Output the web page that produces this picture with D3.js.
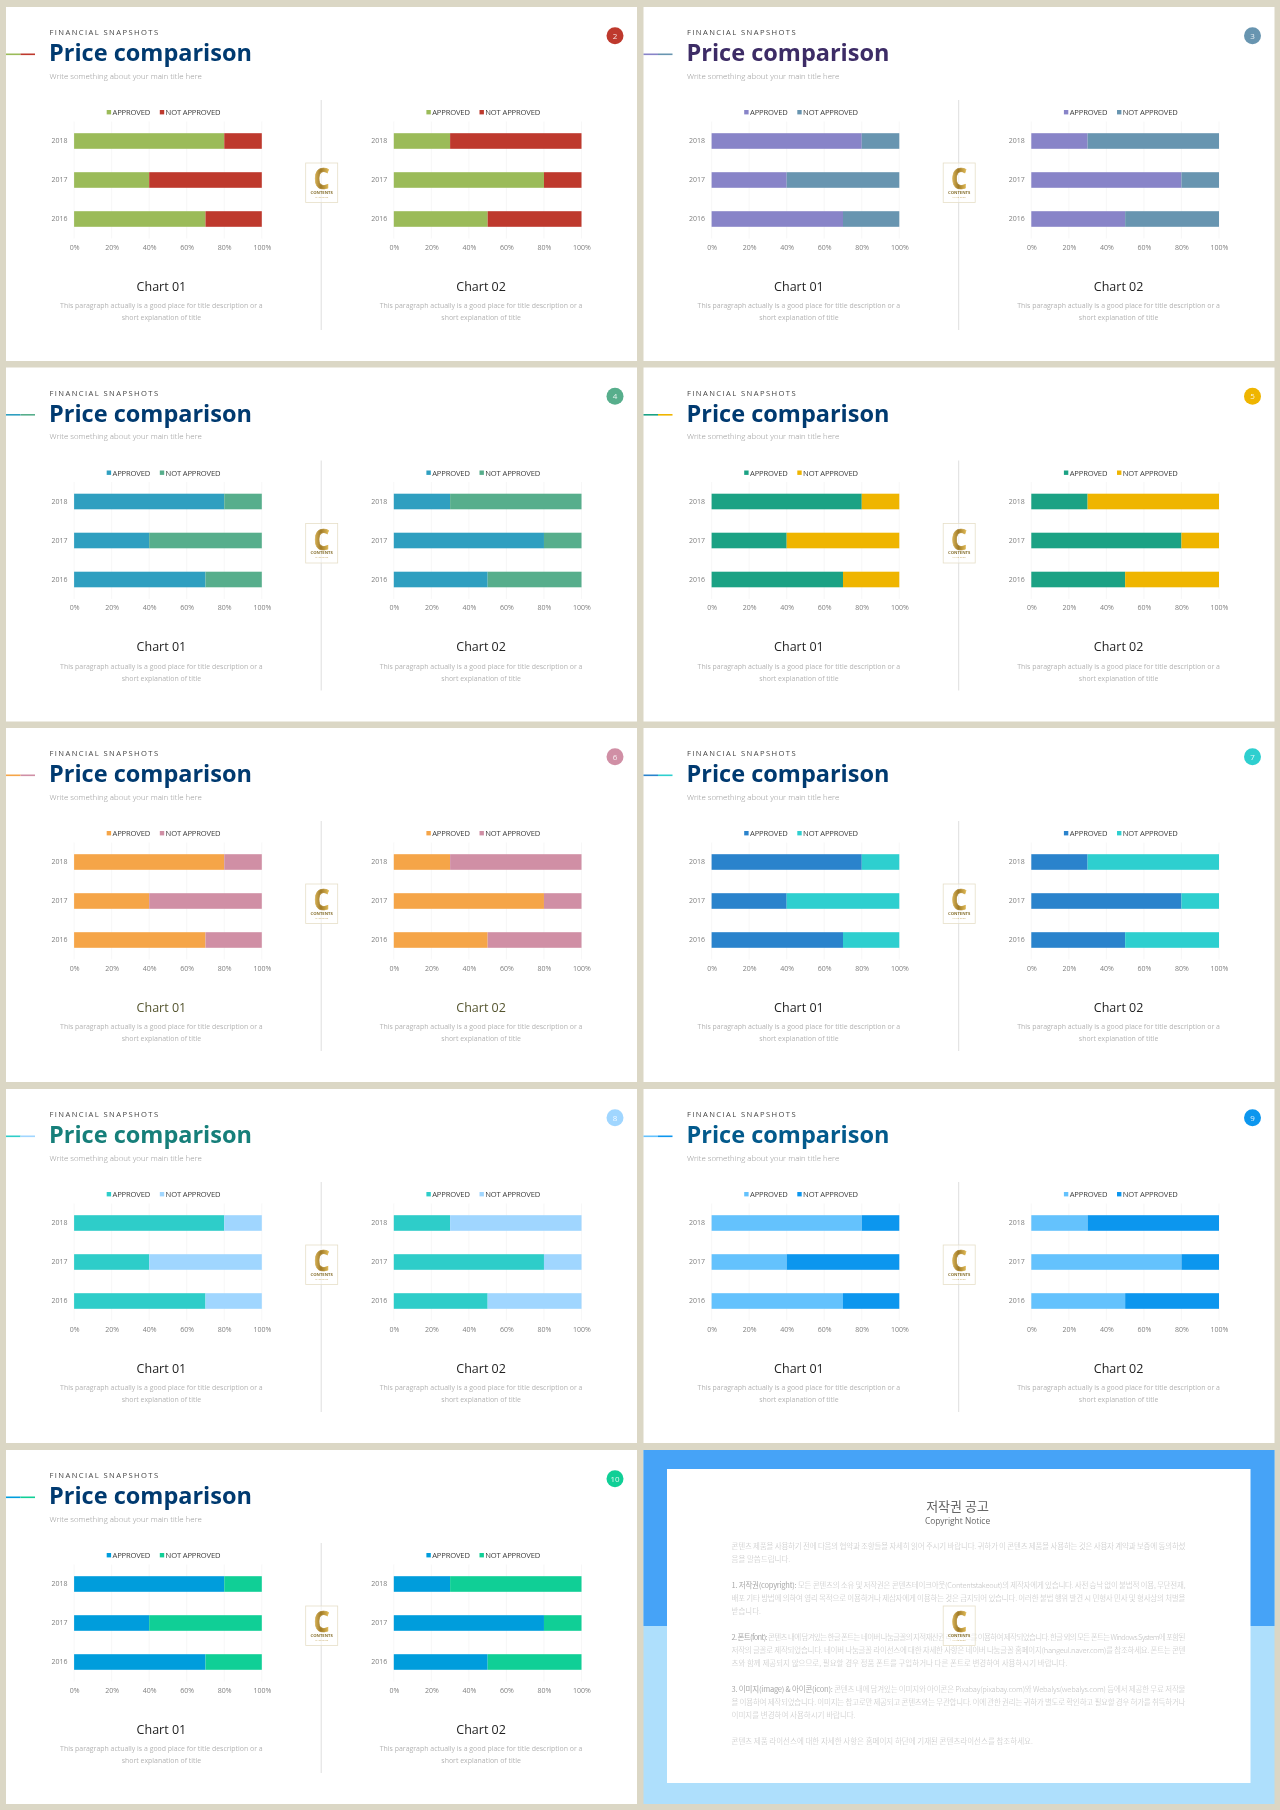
<!DOCTYPE html>
<html>
<head>
<meta charset="utf-8">
<script src="https://cdn.jsdelivr.net/npm/d3@7"></script>
<style>
html, body { margin: 0; padding: 0; background: #dbd7c5; }
svg { display: block; filter: blur(0.3px); }
text { font-family: "Open Sans", sans-serif; }
.kr { font-family: "Noto Sans CJK KR", "Open Sans", sans-serif; }
</style>
</head>
<body>
<script>
var years = ['2018', '2017', '2016'];
var seriesNames = ['APPROVED', 'NOT APPROVED'];
var xTicks = [0, 20, 40, 60, 80, 100];

var chart1Approved = [80, 40, 70];
var chart1NotApproved = [20, 60, 30];
var chart2Approved = [30, 80, 50];
var chart2NotApproved = [70, 20, 50];

var chartTitles = ['Chart 01', 'Chart 02'];
var paragraphLines = ['This paragraph  actually is a good place for title description or a', 'short explanation of title'];

var pageNumbers = [2, 3, 4, 5, 6, 7, 8, 9, 10];
var approvedColors = ['#9bbb59', '#8884c8', '#2f9fc0', '#1ba284', '#f5a548', '#2a83cc', '#2ecdc9', '#64c2fd', '#009ddc'];
var notApprovedColors = ['#be392d', '#6895b0', '#57ae8c', '#efb500', '#d08fa5', '#2ecfcf', '#a0d6ff', '#0c96ee', '#10cf96'];
var titleColors = ['#003a70', '#3d2c66', '#003a70', '#003a70', '#003a70', '#003a70', '#167f7a', '#035a8c', '#003a70'];
var chartTitleColors = ['#222', '#222', '#222', '#222', '#55552f', '#222', '#222', '#222', '#222'];

var noticeLines = [
	[0, '', '콘텐츠 제품을 사용하기 전에 다음의 협약과 조항들을 자세히 읽어 주시기 바랍니다. 귀하가 이 콘텐츠 제품을 사용하는 것은 사용자 계약과 보증에 동의하셨', 1],
	[12.5, '', '음을 말씀드립니다.', 0],
	[38.5, '1. 저작권(copyright):', ' 모든 콘텐츠의 소유 및 저작권은 콘텐츠테이크아웃(Contentstakeout)의 제작자에게 있습니다. 사전 승낙 없이 불법적 이용, 무단전재,', 1],
	[51.5, '', '배포 기타 방법에 의하여 영리 목적으로 이용하거나 제삼자에게 이용하는 것은 금지되어 있습니다. 이러한 불법 행위 발견 시 민형사 민사 및 형사상의 처벌을', 1],
	[65, '', '받습니다.', 0],
	[90.5, '2. 폰트(font):', ' 콘텐츠 내에 담겨있는 한글 폰트는 네이버 나눔글꼴의 지적재산권 라이선스를 이용하여 제작되었습니다. 한글 외의 모든 폰트는 Windows System에 포함된', 1],
	[103.5, '', '저작의 글꼴로 제작되었습니다. 네이버 나눔글꼴 라이선스에 대한 자세한 사항은 네이버 나눔글꼴 홈페이지(hangeul.naver.com)를 참조하세요. 폰트는 콘텐', 1],
	[117, '', '츠와 함께 제공되지 않으므로, 필요할 경우 정품 폰트를 구입하거나 다른 폰트로 변경하여 사용하시기 바랍니다.', 0],
	[142.5, '3. 이미지(image) & 아이콘(icon):', ' 콘텐츠 내에 담겨있는 이미지와 아이콘은 Pixabay(pixabay.com)와 Webalys(webalys.com) 등에서 제공한 무료 저작물', 1],
	[155.5, '', '을 이용하여 제작되었습니다. 이미지는 참고로만 제공되고 콘텐츠와는 무관합니다. 이에 관한 권리는 귀하가 별도로 확인하고 필요할 경우 허가를 취득하거나', 1],
	[168.5, '', '이미지를 변경하여 사용하시기 바랍니다.', 0],
	[194.5, '', '콘텐츠 제품 라이선스에 대한 자세한 사항은 홈페이지 하단에 기재된 콘텐츠라이선스를 참조하세요.', 0]
];

var panelW = 631, panelH = 354;
var colX = [6, 643.5];
var rowY = [7, 367.5, 728, 1089, 1450];

var svg = d3.select('body').append('svg').attr('width', 1280).attr('height', 1810);
svg.append('rect').attr('width', 1280).attr('height', 1810).attr('fill', '#dbd7c5');

var defs = svg.append('defs');
var gold = defs.append('linearGradient').attr('id', 'gold').attr('x1', 0).attr('x2', 1).attr('y1', 0).attr('y2', 0);
gold.append('stop').attr('offset', '0%').attr('stop-color', '#e0bc62');
gold.append('stop').attr('offset', '45%').attr('stop-color', '#a07a26');
gold.append('stop').attr('offset', '100%').attr('stop-color', '#e8c25c');

function drawChart(g, offsetX, approved, notApproved, colorA, colorB, titleText, titleColor) {
	var x = d3.scaleLinear().domain([0, 100]).range([offsetX, offsetX + 187.7]);
	var y = d3.scaleBand().domain(years).range([114.5, 231.5]).paddingInner(0.6).paddingOuter(0.3);

	var rows = years.map(function (yr, i) { return { year: yr, a: approved[i], b: notApproved[i] }; });
	var stacked = d3.stack().keys(['a', 'b'])(rows);
	var colors = [colorA, colorB];

	// grid
	g.append('g').selectAll('line').data(xTicks).enter().append('line')
		.attr('x1', function (d) { return x(d); }).attr('x2', function (d) { return x(d); })
		.attr('y1', 114.5).attr('y2', 231.5)
		.attr('stroke', '#f3f3f3').attr('stroke-width', 0.7);

	g.append('g').selectAll('g').data(stacked).enter().append('g')
		.attr('fill', function (d, i) { return colors[i]; })
		.selectAll('rect').data(function (d) { return d; }).enter().append('rect')
		.attr('x', function (d) { return x(d[0]); })
		.attr('width', function (d) { return x(d[1]) - x(d[0]); })
		.attr('y', function (d) { return y(d.data.year); })
		.attr('height', y.bandwidth());

	var xAxis = d3.axisBottom(x).tickValues(xTicks).tickSize(0).tickFormat(function (d) { return d + '%'; });
	var xg = g.append('g').attr('transform', 'translate(0,237.5)').call(xAxis);
	xg.select('.domain').remove();
	xg.selectAll('text').style('font-family', '"Open Sans"').style('font-size', '7px').attr('fill', '#808080').attr('dy', '0.32em').attr('y', 3);

	var yAxis = d3.axisLeft(y).tickSize(0).tickPadding(6.5);
	var yg = g.append('g').attr('transform', 'translate(' + offsetX + ',0)').call(yAxis);
	yg.select('.domain').remove();
	yg.selectAll('text').style('font-family', '"Open Sans"').style('font-size', '7px').attr('fill', '#808080');

	// legend
	var lx = [offsetX + 32.6, offsetX + 85.7];
	seriesNames.forEach(function (name, i) {
		g.append('rect').attr('x', lx[i]).attr('y', 103).attr('width', 4.4).attr('height', 4.4).attr('fill', colors[i]);
		g.append('text').attr('x', lx[i] + 5.8).attr('y', 108.2).attr('font-size', 7.6).attr('letter-spacing', -0.15).attr('fill', '#3c3c3c').text(name);
	});

	var cx = offsetX + 87.3;
	g.append('text').attr('x', cx).attr('y', 283.5).attr('text-anchor', 'middle').attr('font-size', 12.5).attr('fill', titleColor).text(titleText);
	paragraphLines.forEach(function (line, i) {
		g.append('text').attr('x', cx).attr('y', 301 + i * 12).attr('text-anchor', 'middle').attr('font-size', 6.95).attr('font-weight', 400).attr('fill', '#b4b4b4').text(line);
	});
}

function drawLogo(g) {
	g.append('rect').attr('x', 299.7).attr('y', 156).attr('width', 32).attr('height', 39.5)
		.attr('fill', '#fff').attr('fill-opacity', 0.55).attr('stroke', '#e6dfc8').attr('stroke-width', 0.8);
	g.append('text').attr('x', 0).attr('y', 0).attr('transform', 'translate(315.7,182) scale(0.85,1)')
		.attr('text-anchor', 'middle').style('font-family', '"Liberation Sans Narrow", "Open Sans"').attr('font-size', 29).attr('font-weight', 700)
		.attr('fill', 'url(#gold)').attr('stroke', 'url(#gold)').attr('stroke-width', 0.7).text('C');
	g.append('text').attr('x', 315.7).attr('y', 186.5).attr('text-anchor', 'middle').attr('font-size', 4.2).attr('font-weight', 700).attr('fill', '#8a7434').text('CONTENTS');
	g.append('text').attr('x', 315.7).attr('y', 190.5).attr('text-anchor', 'middle').attr('font-size', 2.4).attr('fill', '#c9ad6a').text('MAKE OVER');
}

pageNumbers.forEach(function (num, i) {
	var g = svg.append('g').attr('transform', 'translate(' + colX[i % 2] + ',' + rowY[Math.floor(i / 2)] + ')');
	var colorA = approvedColors[i], colorB = notApprovedColors[i];

	g.append('rect').attr('width', panelW).attr('height', panelH).attr('fill', '#fff');

	// accent line beside the title
	g.append('rect').attr('x', 0).attr('y', 46.5).attr('width', 14.5).attr('height', 1.6).attr('fill', colorA);
	g.append('rect').attr('x', 14.5).attr('y', 46.5).attr('width', 14.5).attr('height', 1.6).attr('fill', colorB);

	g.append('text').attr('x', 43.4).attr('y', 28).attr('font-size', 7.6).attr('letter-spacing', 1.42).attr('fill', '#444').text('FINANCIAL SNAPSHOTS');
	g.append('text').attr('x', 43).attr('y', 54.3).attr('font-size', 23.5).attr('font-weight', 700).attr('fill', titleColors[i]).text('Price comparison');
	g.append('text').attr('x', 43.4).attr('y', 71.5).attr('font-size', 7.9).attr('font-weight', 300).attr('fill', '#999').text('Write something about your main title here');

	g.append('circle').attr('cx', 609).attr('cy', 28.7).attr('r', 8.5).attr('fill', colorB);
	g.append('text').attr('x', 609).attr('y', 31.5).attr('text-anchor', 'middle').attr('font-size', 8).attr('fill', '#fff').attr('fill-opacity', 0.85).text(num);

	g.append('line').attr('x1', 315.2).attr('x2', 315.2).attr('y1', 93).attr('y2', 323).attr('stroke', '#dedede').attr('stroke-width', 1);

	drawChart(g, 68.1, chart1Approved, chart1NotApproved, colorA, colorB, chartTitles[0], chartTitleColors[i]);
	drawChart(g, 387.8, chart2Approved, chart2NotApproved, colorA, colorB, chartTitles[1], chartTitleColors[i]);

	drawLogo(g);
});

// last panel: copyright notice
var n = svg.append('g').attr('transform', 'translate(' + colX[1] + ',' + rowY[4] + ')');
n.append('rect').attr('width', panelW).attr('height', 354).attr('fill', '#aedffc');
n.append('rect').attr('width', panelW).attr('height', 176).attr('fill', '#46a3f7');
n.append('rect').attr('x', 23.5).attr('y', 19).attr('width', 583.5).attr('height', 314).attr('fill', '#fff');

n.append('text').attr('class', 'kr').attr('x', 314).attr('y', 60.5).attr('text-anchor', 'middle').attr('font-size', 13).attr('fill', '#666').text('저작권 공고');
n.append('text').attr('x', 314).attr('y', 74).attr('text-anchor', 'middle').attr('font-size', 8.4).attr('fill', '#666').text('Copyright Notice');

noticeLines.forEach(function (d) {
	var t = n.append('text').attr('class', 'kr').attr('x', 88).attr('y', 99 + d[0]).attr('font-size', 7.5).attr('font-weight', 300).attr('fill', '#c4c4c4');
	if (d[3]) t.attr('textLength', 454).attr('lengthAdjust', 'spacing');
	if (d[1]) t.append('tspan').attr('font-weight', 400).attr('fill', '#a8a8a8').text(d[1]);
	t.append('tspan').text(d[2]);
});

drawLogo(n);
</script>
</body>
</html>
